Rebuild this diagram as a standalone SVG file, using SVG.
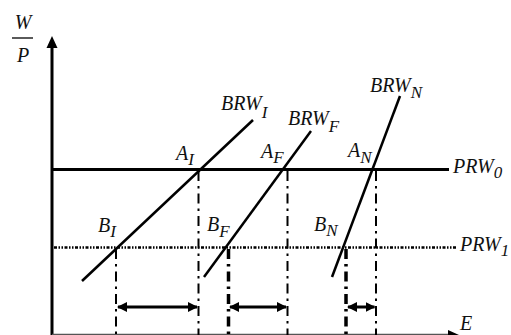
<svg xmlns="http://www.w3.org/2000/svg" width="511" height="335" viewBox="0 0 511 335">
<style>
text{font-family:"Liberation Serif",serif;font-style:italic;font-size:20px;fill:#111}
.sub{font-size:17px}
.curve{stroke:#000;stroke-width:2.5;fill:none}
.vA{stroke:#000;stroke-width:2;stroke-dasharray:10 5 2.5 5;fill:none}
.vB{stroke:#000;stroke-width:3.5;stroke-dasharray:10 5 2.5 5;fill:none}
.arr{stroke:#000;stroke-width:3;fill:none;marker-start:url(#ah);marker-end:url(#ah)}
</style>
<defs>
<marker id="ah" viewBox="0 0 10 10" refX="9" refY="5" markerWidth="10" markerHeight="10" markerUnits="userSpaceOnUse" orient="auto-start-reverse">
<path d="M0,0 L10,5 L0,10 z" fill="#000"/>
</marker>
</defs>
<rect width="511" height="335" fill="#fff"/>
<g id="axes">
<line x1="52" y1="335" x2="52" y2="46" stroke="#000" stroke-width="3"/>
<polygon points="46.5,48 57.5,48 52,36" fill="#000"/>
<line x1="52" y1="334.5" x2="450" y2="334.5" stroke="#555" stroke-width="1.5"/>
<polygon points="448,330 459,335 448,340" fill="#000"/>
<text x="23" y="29" text-anchor="middle">W</text>
<line x1="12" y1="38" x2="33" y2="38" stroke="#000" stroke-width="1.3"/>
<text x="23" y="62" text-anchor="middle">P</text>
<text x="460" y="330">E</text>
</g>
<g id="PRW0">
<line x1="52" y1="169.5" x2="449" y2="169.5" stroke="#000" stroke-width="3"/>
<text x="453" y="173">PRW<tspan class="sub" dy="5">0</tspan></text>
</g>
<g id="PRW1">
<line x1="54" y1="247.5" x2="457" y2="247.5" stroke="#000" stroke-width="2.5" stroke-dasharray="3 1.5 1.5 1.5 1.5 1.5"/>
<text x="460" y="251">PRW<tspan class="sub" dy="5">1</tspan></text>
</g>
<g id="BRWI">
<line class="curve" x1="82" y1="281" x2="253" y2="120"/>
<text x="221" y="110">BRW<tspan class="sub" dy="8">I</tspan></text>
</g>
<g id="BRWF">
<line class="curve" x1="204" y1="277" x2="311" y2="131"/>
<text x="288" y="125">BRW<tspan class="sub" dy="7">F</tspan></text>
</g>
<g id="BRWN">
<line class="curve" x1="332" y1="277" x2="400" y2="96"/>
<text x="370" y="92">BRW<tspan class="sub" dy="6">N</tspan></text>
</g>
<g id="points">
<text x="176" y="160">A<tspan class="sub" dy="5">I</tspan></text>
<text x="261" y="158">A<tspan class="sub" dy="5">F</tspan></text>
<text x="348" y="157">A<tspan class="sub" dy="6">N</tspan></text>
<text x="98" y="232">B<tspan class="sub" dy="5">I</tspan></text>
<text x="207" y="231">B<tspan class="sub" dy="6">F</tspan></text>
<text x="314" y="231">B<tspan class="sub" dy="5">N</tspan></text>
</g>
<g id="connectors">
<line class="vA" x1="198.5" y1="171" x2="198.5" y2="335"/>
<line class="vA" x1="287.5" y1="171" x2="287.5" y2="335"/>
<line class="vA" x1="376" y1="171" x2="376" y2="335"/>
<line class="vA" x1="116" y1="249" x2="116" y2="335"/>
<line class="vB" x1="228.5" y1="249" x2="228.5" y2="335"/>
<line class="vB" x1="346" y1="249" x2="346" y2="335"/>
<line class="arr" x1="118" y1="307" x2="197" y2="307"/>
<line class="arr" x1="230" y1="307" x2="286" y2="307"/>
<line class="arr" x1="348" y1="307" x2="374.5" y2="307"/>
</g>
</svg>
